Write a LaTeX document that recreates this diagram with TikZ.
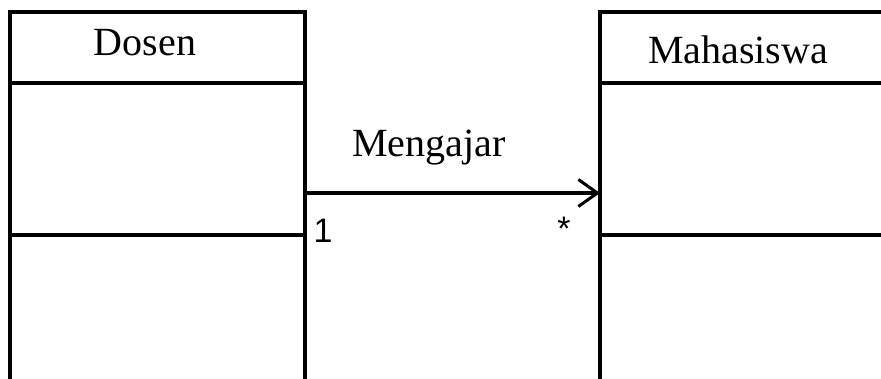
\documentclass[tikz,border=0pt]{standalone}
\usepackage{fontspec}
\setmainfont{Liberation Serif}
\newfontfamily\labsans{Liberation Sans}
\usetikzlibrary{arrows.meta}
\begin{document}
\begin{tikzpicture}[x=1pt,y=-1pt,
  box/.style={draw, line width=3.5pt, rectangle, inner sep=0pt, outer sep=0pt, anchor=north west},
  cname/.style={anchor=base, inner sep=0pt, font=\fontsize{40}{42}\selectfont},
  mult/.style={anchor=base, inner sep=0pt, font=\labsans\fontsize{34}{36}\selectfont},
  assoc/.style={line width=3.5pt, -{Straight Barb[length=19pt,width=27pt,line width=3pt]}}
]
\useasboundingbox (0,0) rectangle (881,378);
\fill[white] (0,0) rectangle (881,378);
\clip (0,0) rectangle (881,378);
% Dosen class
\node[box, minimum width=295pt, minimum height=71pt] (dh) at (10,12) {};
\node[box, minimum width=295pt, minimum height=152pt] (dm) at (10,83) {};
\node[box, minimum width=295pt, minimum height=165pt] (db) at (10,235) {};
% Mahasiswa class
\node[box, minimum width=300pt, minimum height=71pt] (mh) at (600,12) {};
\node[box, minimum width=300pt, minimum height=152pt] (mm) at (600,83) {};
\node[box, minimum width=300pt, minimum height=165pt] (mb) at (600,235) {};
% names
\node[cname] (dosent) at (145,55) {Dosen};
\node[cname] (mahat) at (738,63) {Mahasiswa};
% association
\coordinate (ay) at (0,193);
\draw[assoc] (dm.east |- ay) -- (mm.west |- ay);
\node[cname] (mengt) at (429,156) {Mengajar};
\node[mult] (one) at (323,242) {1};
\node[mult] (star) at (564,240) {*};
\end{tikzpicture}
\end{document}
